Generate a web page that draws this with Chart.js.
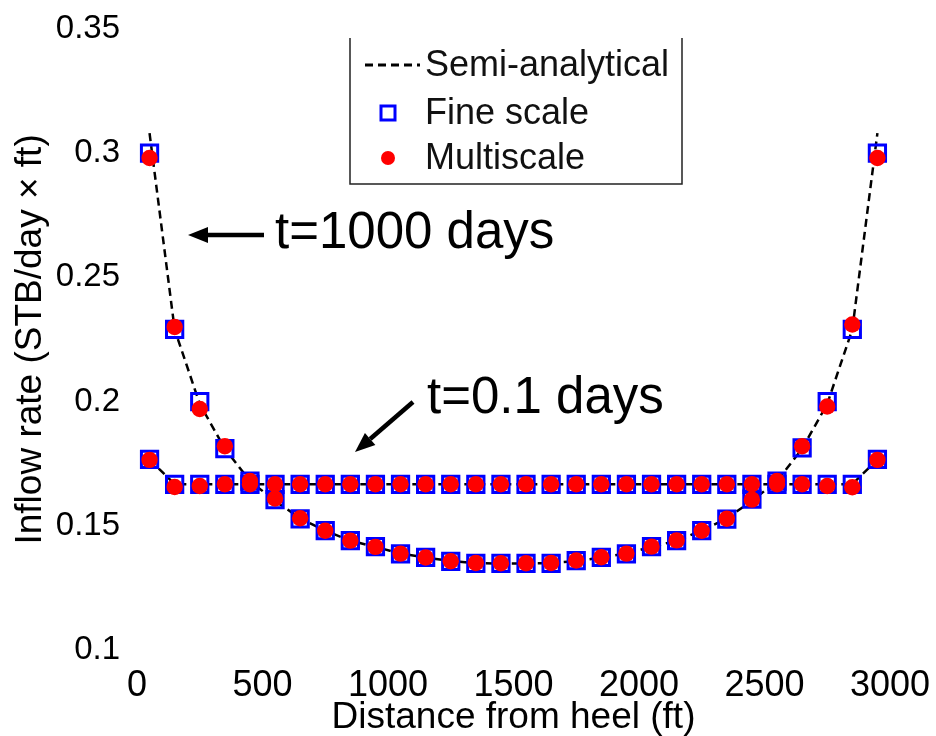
<!DOCTYPE html>
<html>
<head>
<meta charset="utf-8">
<script src="https://cdn.jsdelivr.net/npm/chart.js@4.4.1/dist/chart.umd.min.js"></script>
<style>
  html, body { margin: 0; padding: 0; background: #fff; }
  #wrap { width: 936px; height: 736px; }
</style>
</head>
<body>
<div id="wrap"><canvas id="c" width="936" height="736"></canvas></div>
<script>
// ---------- data ----------
const xPos = [50, 150, 250, 350, 450, 550, 650, 750, 850, 950,
              1050, 1150, 1250, 1350, 1450, 1550, 1650, 1750, 1850, 1950,
              2050, 2150, 2250, 2350, 2450, 2550, 2650, 2750, 2850, 2950];

// t = 1000 days
const semi1000  = [0.308, 0.229, 0.199, 0.181, 0.168, 0.160, 0.153, 0.148, 0.144, 0.1415,
                   0.1388, 0.1372, 0.1358, 0.1350, 0.1348, 0.1348, 0.1350, 0.1358, 0.1372, 0.1388,
                   0.1415, 0.144, 0.148, 0.153, 0.160, 0.168, 0.181, 0.199, 0.229, 0.308];
const fine1000  = [0.300, 0.229, 0.200, 0.181, 0.168, 0.1605, 0.1528, 0.148, 0.144, 0.1416,
                   0.1387, 0.1373, 0.1357, 0.1349, 0.1349, 0.1349, 0.1349, 0.1360, 0.1373, 0.1387,
                   0.1416, 0.144, 0.148, 0.1527, 0.1607, 0.168, 0.1813, 0.200, 0.229, 0.300];
const multi1000 = [0.298, 0.230, 0.197, 0.182, 0.168, 0.161, 0.153, 0.148, 0.144, 0.1415,
                   0.1388, 0.1372, 0.1357, 0.1350, 0.1349, 0.1349, 0.1350, 0.1360, 0.1373, 0.1388,
                   0.1416, 0.1441, 0.148, 0.1528, 0.1605, 0.168, 0.182, 0.198, 0.231, 0.298];

// t = 0.1 days
const semi01  = [0.1767, 0.1667, 0.1667, 0.1667, 0.1667, 0.1667, 0.1667, 0.1667, 0.1667, 0.1667,
                 0.1667, 0.1667, 0.1667, 0.1667, 0.1667, 0.1667, 0.1667, 0.1667, 0.1667, 0.1667,
                 0.1667, 0.1667, 0.1667, 0.1667, 0.1667, 0.1667, 0.1667, 0.1667, 0.1667, 0.1767];
const fine01  = [0.1767, 0.1667, 0.1667, 0.1667, 0.1667, 0.1667, 0.1667, 0.1667, 0.1667, 0.1667,
                 0.1667, 0.1667, 0.1667, 0.1667, 0.1667, 0.1667, 0.1667, 0.1667, 0.1667, 0.1667,
                 0.1667, 0.1667, 0.1667, 0.1667, 0.1667, 0.1667, 0.1667, 0.1667, 0.1667, 0.1767];
const multi01 = [0.1765, 0.1656, 0.1660, 0.1667, 0.1667, 0.1667, 0.1667, 0.1667, 0.1667, 0.1667,
                 0.1667, 0.1667, 0.1667, 0.1667, 0.1667, 0.1667, 0.1667, 0.1667, 0.1667, 0.1667,
                 0.1667, 0.1667, 0.1667, 0.1667, 0.1667, 0.1667, 0.1667, 0.1660, 0.1655, 0.1765];

const xTicks = [0, 500, 1000, 1500, 2000, 2500, 3000];
const xTickLabels = ['0', '500', '1000', '1500', '2000', '2500', '3000'];
const yTicks = [0.1, 0.15, 0.2, 0.25, 0.3, 0.35];
const yTickLabels = ['0.1', '0.15', '0.2', '0.25', '0.3', '0.35'];

const legendLabels = ['Semi-analytical', 'Fine scale', 'Multiscale'];
const annoLabels = ['t=1000 days', 't=0.1 days'];
const xTitle = 'Distance from heel (ft)';
const yTitle = 'Inflow rate (STB/day \u00d7 ft)';

// ---------- helpers ----------
const FONT = '"Liberation Sans", Arial, Helvetica, sans-serif';
const pts = (ys) => xPos.map((x, i) => ({ x: x, y: ys[i] }));

const semiStyle = {
  showLine: true, pointRadius: 0, borderColor: '#000', borderWidth: 2.5,
  borderDash: [8, 5], fill: false, tension: 0
};
const fineStyle = {
  showLine: false, pointStyle: 'rect', pointRadius: 11.5, borderColor: '#0000ff',
  borderWidth: 3, backgroundColor: 'rgba(0,0,0,0)'
};
const multiStyle = {
  showLine: false, pointStyle: 'circle', pointRadius: 8.2, borderWidth: 0,
  backgroundColor: '#ff0000', borderColor: '#ff0000'
};

// ---------- overlay: legend + annotations ----------
function arrow(ctx, x0, y0, x1, y1) {
  const ang = Math.atan2(y1 - y0, x1 - x0);
  const hl = 20, hw = 8;
  const bx = x1 - hl * Math.cos(ang), by = y1 - hl * Math.sin(ang);
  ctx.beginPath();
  ctx.moveTo(x0, y0);
  ctx.lineTo(bx, by);
  ctx.lineWidth = 4.5;
  ctx.strokeStyle = '#000';
  ctx.stroke();
  ctx.beginPath();
  ctx.moveTo(x1, y1);
  ctx.lineTo(bx + hw * Math.sin(ang), by - hw * Math.cos(ang));
  ctx.lineTo(bx - hw * Math.sin(ang), by + hw * Math.cos(ang));
  ctx.closePath();
  ctx.fillStyle = '#000';
  ctx.fill();
}

const overlay = {
  id: 'overlay',
  afterDraw(chart) {
    const ctx = chart.ctx;
    ctx.save();
    // legend box (left, right, bottom sides)
    ctx.strokeStyle = '#222';
    ctx.lineWidth = 1.5;
    ctx.beginPath();
    ctx.moveTo(350, 38); ctx.lineTo(350, 184); ctx.lineTo(682, 184); ctx.lineTo(682, 38);
    ctx.stroke();
    // semi-analytical sample
    ctx.beginPath();
    ctx.setLineDash([8, 5]);
    ctx.lineWidth = 3;
    ctx.strokeStyle = '#000';
    ctx.moveTo(365, 65); ctx.lineTo(420, 65);
    ctx.stroke();
    ctx.setLineDash([]);
    // fine scale sample
    ctx.strokeStyle = '#0000ff';
    ctx.lineWidth = 3;
    ctx.strokeRect(381, 106, 14, 14);
    // multiscale sample
    ctx.beginPath();
    ctx.fillStyle = '#ff0000';
    ctx.arc(388, 158, 7, 0, Math.PI * 2);
    ctx.fill();
    // legend text
    ctx.fillStyle = '#111';
    ctx.font = '36px ' + FONT;
    ctx.textBaseline = 'middle';
    ctx.textAlign = 'left';
    ctx.fillText(legendLabels[0], 425, 66);
    ctx.fillText(legendLabels[1], 425, 114);
    ctx.fillText(legendLabels[2], 425, 159);
    // annotations
    ctx.font = '51px ' + FONT;
    ctx.textBaseline = 'alphabetic';
    ctx.fillStyle = '#000';
    ctx.fillText(annoLabels[0], 275, 248);
    ctx.fillText(annoLabels[1], 427, 413);
    arrow(ctx, 264, 235, 188, 235);
    arrow(ctx, 413, 402, 355, 452);
    ctx.restore();
  }
};

// ---------- chart ----------
new Chart(document.getElementById('c'), {
  type: 'scatter',
  data: {
    datasets: [
      Object.assign({ label: legendLabels[2], data: pts(multi1000) }, multiStyle),
      Object.assign({ label: legendLabels[2], data: pts(multi01) }, multiStyle),
      Object.assign({ label: legendLabels[1], data: pts(fine1000) }, fineStyle),
      Object.assign({ label: legendLabels[1], data: pts(fine01) }, fineStyle),
      Object.assign({ label: legendLabels[0], data: pts(semi1000) }, semiStyle),
      Object.assign({ label: legendLabels[0], data: pts(semi01) }, semiStyle)
    ]
  },
  options: {
    responsive: false,
    animation: false,
    devicePixelRatio: 1,
    layout: { padding: { top: 25, right: 42, left: 0, bottom: 0 } },
    plugins: { legend: { display: false }, tooltip: { enabled: false } },
    scales: {
      x: {
        type: 'linear', min: 0, max: 3000,
        grid: { display: false }, border: { display: false },
        afterBuildTicks: (s) => { s.ticks = xTicks.map(v => ({ value: v })); },
        afterFit: (s) => { s.height = 86; },
        ticks: {
          autoSkip: false, maxRotation: 0, padding: 6, color: '#000',
          font: { family: FONT, size: 36 },
          callback: (v, i) => xTickLabels[i]
        },
        title: {
          display: true, text: xTitle, color: '#000',
          font: { family: FONT, size: 37, lineHeight: 1 },
          padding: { top: 0, bottom: 0 }
        }
      },
      y: {
        type: 'linear', min: 0.1, max: 0.35,
        grid: { display: false }, border: { display: false },
        afterBuildTicks: (s) => { s.ticks = yTicks.map(v => ({ value: v })); },
        afterFit: (s) => { s.width = 137; },
        ticks: {
          autoSkip: false, padding: 9, color: '#000',
          font: { family: FONT, size: 33 },
          callback: (v, i) => yTickLabels[i]
        },
        title: {
          display: true, text: yTitle, color: '#000',
          font: { family: FONT, size: 37, lineHeight: 1 },
          padding: { top: 12, bottom: 0 }
        }
      }
    }
  },
  plugins: [overlay]
});
</script>
</body>
</html>
